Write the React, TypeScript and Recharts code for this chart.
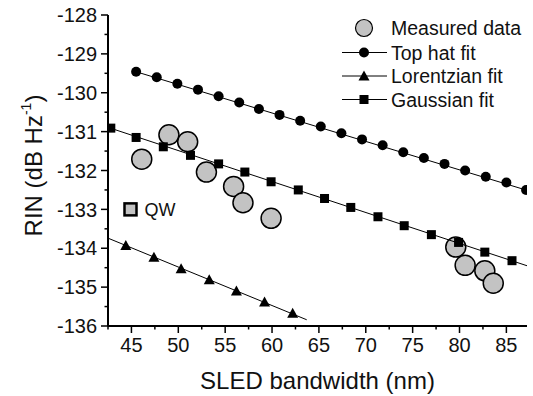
import React from 'react';
import { ComposedChart, Scatter, XAxis, YAxis, ReferenceDot } from 'recharts';

const FONT = '"Liberation Sans", Arial, Helvetica, sans-serif';

// measured RIN points (grey circles)
const measuredX = [46.1, 49.0, 51.0, 53.0, 55.9, 56.9, 59.9, 79.6, 80.6, 82.7, 83.6];
const measuredY = [-131.71, -131.08, -131.26, -132.04, -132.41, -132.83, -133.23, -133.97, -134.44, -134.58, -134.9];

// top hat fit markers
const topHatX = [45.5, 47.7, 49.9, 52.1, 54.3, 56.5, 58.6, 60.8, 63.0, 65.2, 67.4, 69.6, 71.8, 74.0, 76.2, 78.4, 80.6, 82.8, 85.0, 87.1];
const topHatY = [-129.46, -129.6, -129.77, -129.92, -130.09, -130.25, -130.42, -130.57, -130.72, -130.87, -131.04, -131.2, -131.35, -131.53, -131.68, -131.83, -132.0, -132.16, -132.31, -132.5];

// lorentzian fit markers
const lorentzX = [44.4, 47.4, 50.3, 53.3, 56.2, 59.2, 62.2];
const lorentzY = [-133.93, -134.23, -134.53, -134.81, -135.1, -135.38, -135.67];

// gaussian fit markers
const gaussX = [42.8, 45.5, 48.4, 51.3, 54.3, 57.1, 59.9, 62.8, 65.6, 68.4, 71.3, 74.1, 77.0, 79.9, 82.7, 85.6];
const gaussY = [-130.91, -131.15, -131.39, -131.61, -131.83, -132.04, -132.29, -132.5, -132.72, -132.95, -133.19, -133.42, -133.65, -133.85, -134.1, -134.32];

// fit line end points
const topHatLineX = [45.5, 87.2];
const topHatLineY = [-129.46, -132.51];
const lorentzLineX = [42.5, 63.7];
const lorentzLineY = [-133.74, -135.84];
const gaussLineX = [42.5, 87.2];
const gaussLineY = [-130.89, -134.45];

const xDomain = [42.5, 87.2];
const yDomain = [-136, -128];
const xTicks = [42.5, 45, 47.5, 50, 52.5, 55, 57.5, 60, 62.5, 65, 67.5, 70, 72.5, 75, 77.5, 80, 82.5, 85];
const xLabels = [45, 50, 55, 60, 65, 70, 75, 80, 85];
const yTicks = [-136, -135.5, -135, -134.5, -134, -133.5, -133, -132.5, -132, -131.5, -131, -130.5, -130, -129.5, -129, -128.5, -128];
const yLabels = [-136, -135, -134, -133, -132, -131, -130, -129, -128];

const legendItems = [
  { label: 'Measured data', kind: 'measured' },
  { label: 'Top hat fit', kind: 'circle' },
  { label: 'Lorentzian fit', kind: 'triangle' },
  { label: 'Gaussian fit', kind: 'square' },
];

const pts = (xs: number[], ys: number[]) => xs.map((x, i) => ({ x, y: ys[i] }));

const GREY = '#c3c3c3';

function marker(kind: string, cx: number, cy: number) {
  if (kind === 'measured')
    return <circle cx={cx} cy={cy} r={10} fill={GREY} stroke="#000" strokeWidth={1.5} />;
  if (kind === 'circle') return <circle cx={cx} cy={cy} r={5} fill="#000" />;
  if (kind === 'square') return <rect x={cx - 4.5} y={cy - 4.5} width={9} height={9} fill="#000" />;
  return <polygon points={`${cx},${cy - 5.5} ${cx - 5.5},${cy + 4.5} ${cx + 5.5},${cy + 4.5}`} fill="#000" />;
}

const shapeOf = (kind: string) => (p: any) => marker(kind, p.cx, p.cy);
const noShape = () => <g />;

function XTick(p: any) {
  const v = p.payload.value;
  const major = xLabels.includes(v);
  return (
    <g>
      <line x1={p.x} x2={p.x} y1={p.y} y2={p.y + (major ? 7 : 3.5)} stroke="#000" strokeWidth={1.5} />
      {major && (
        <text x={p.x} y={p.y + 26} textAnchor="middle" fontSize={20} fontFamily={FONT} fill="#111">
          {v}
        </text>
      )}
    </g>
  );
}

function YTick(p: any) {
  const v = p.payload.value;
  const major = yLabels.includes(v);
  return (
    <g>
      <line x1={p.x} x2={p.x - (major ? 7 : 3.5)} y1={p.y} y2={p.y} stroke="#000" strokeWidth={1.5} />
      {major && (
        <text x={p.x - 11} y={p.y} dy="0.36em" textAnchor="end" fontSize={20} fontFamily={FONT} fill="#111">
          {v}
        </text>
      )}
    </g>
  );
}

function YTitle(p: any) {
  const vb = p.viewBox;
  const cx = 42;
  const cy = vb.y + vb.height / 2 - 5;
  return (
    <text transform={`translate(${cx},${cy}) rotate(-90)`} textAnchor="middle" fontSize={24} fontFamily={FONT} fill="#111">
      <tspan>RIN (dB Hz</tspan>
      <tspan fontSize={14} dy={-11}>-1</tspan>
      <tspan dy={11}>)</tspan>
    </text>
  );
}

function XTitle(p: any) {
  const vb = p.viewBox;
  return (
    <text x={vb.x + vb.width / 2} y={vb.y + 63} textAnchor="middle" fontSize={24} fontFamily={FONT} fill="#111">
      SLED bandwidth (nm)
    </text>
  );
}

function QWLabel(p: any) {
  return (
    <g>
      <rect x={p.cx - 6} y={p.cy - 6} width={12} height={12} fill={GREY} stroke="#000" strokeWidth={2.5} />
      <text x={p.cx + 14} y={p.cy + 7} fontSize={18} fontFamily={FONT} fill="#111">QW</text>
    </g>
  );
}

function LegendBox() {
  const rowY = [28, 52.5, 76, 99.5];
  return (
    <svg width={533} height={396} style={{ position: 'absolute', left: 0, top: 0, pointerEvents: 'none' }}>
      {legendItems.map((item, i) => (
        <g key={item.label}>
          {item.kind !== 'measured' && (
            <line x1={342} x2={387} y1={rowY[i]} y2={rowY[i]} stroke="#000" strokeWidth={1} />
          )}
          {item.kind === 'measured'
            ? <circle cx={364} cy={rowY[i]} r={8.5} fill={GREY} stroke="#000" strokeWidth={1.2} />
            : marker(item.kind, 364, rowY[i])}
          <text x={391} y={rowY[i] + 7} fontSize={19.5} fontFamily={FONT} fill="#111">{item.label}</text>
        </g>
      ))}
    </svg>
  );
}

export default function App() {
  return (
    <div style={{ position: 'absolute', left: 0, top: 0, width: 533, height: 396, background: '#fff' }}>
      <ComposedChart width={533} height={396} margin={{ top: 15, right: 6, bottom: 0, left: 0 }}>
        <XAxis
          dataKey="x"
          type="number"
          domain={xDomain}
          ticks={xTicks}
          interval={0}
          allowDataOverflow
          height={70}
          tickSize={0}
          tickMargin={0}
          tickLine={false}
          tick={(p: any) => <XTick {...p} />}
          axisLine={{ stroke: '#000', strokeWidth: 2 }}
          label={{ content: (p: any) => <XTitle {...p} /> }}
        />
        <XAxis xAxisId="top" orientation="top" type="number" domain={xDomain} height={0} tick={false} tickLine={false} axisLine={{ stroke: '#000', strokeWidth: 2 }} />
        <YAxis
          dataKey="y"
          type="number"
          domain={yDomain}
          ticks={yTicks}
          interval={0}
          allowDataOverflow
          width={108}
          tickSize={0}
          tickMargin={0}
          tickLine={false}
          tick={(p: any) => <YTick {...p} />}
          axisLine={{ stroke: '#000', strokeWidth: 2 }}
          label={{ content: (p: any) => <YTitle {...p} /> }}
        />
        <YAxis yAxisId="right" orientation="right" type="number" domain={yDomain} width={0} tick={false} tickLine={false} axisLine={{ stroke: '#000', strokeWidth: 2 }} />

        <Scatter name="Measured data" data={pts(measuredX, measuredY)} shape={shapeOf('measured')} isAnimationActive={false} />

        <Scatter data={pts(topHatLineX, topHatLineY)} line={{ stroke: '#000', strokeWidth: 1 }} shape={noShape} isAnimationActive={false} />
        <Scatter data={pts(lorentzLineX, lorentzLineY)} line={{ stroke: '#000', strokeWidth: 1 }} shape={noShape} isAnimationActive={false} />
        <Scatter data={pts(gaussLineX, gaussLineY)} line={{ stroke: '#000', strokeWidth: 1 }} shape={noShape} isAnimationActive={false} />

        <Scatter name="Top hat fit" data={pts(topHatX, topHatY)} shape={shapeOf('circle')} isAnimationActive={false} />
        <Scatter name="Lorentzian fit" data={pts(lorentzX, lorentzY)} shape={shapeOf('triangle')} isAnimationActive={false} />
        <Scatter name="Gaussian fit" data={pts(gaussX, gaussY)} shape={shapeOf('square')} isAnimationActive={false} />

        <ReferenceDot x={44.9} y={-133} shape={(p: any) => <QWLabel {...p} />} />
      </ComposedChart>
      <LegendBox />
    </div>
  );
}
